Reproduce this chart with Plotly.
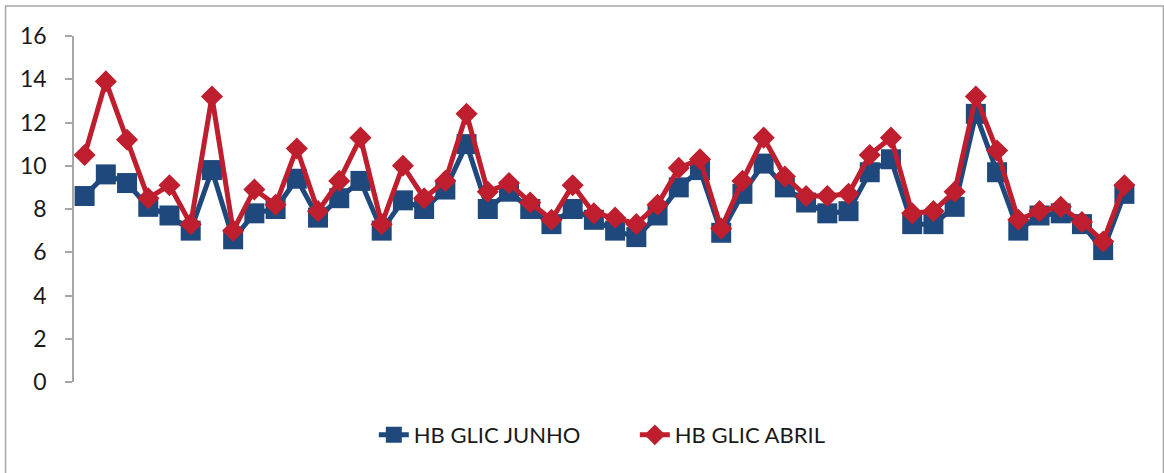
import plotly.graph_objects as go

patients = list(range(1, 51))
hb_glic_junho = [8.6, 9.6, 9.2, 8.1, 7.7, 7.0, 9.8, 6.6, 7.8, 8.0,
                 9.4, 7.6, 8.5, 9.3, 7.0, 8.4, 8.0, 8.9, 11.0, 8.0,
                 8.8, 8.0, 7.3, 8.0, 7.5, 7.0, 6.7, 7.7, 9.0, 9.8,
                 6.9, 8.7, 10.1, 9.0, 8.3, 7.8, 7.9, 9.7, 10.3, 7.3,
                 7.3, 8.1, 12.4, 9.7, 7.0, 7.7, 7.8, 7.3, 6.1, 8.7]
hb_glic_abril = [10.5, 13.9, 11.2, 8.5, 9.1, 7.3, 13.2, 7.0, 8.9, 8.2,
                 10.8, 7.9, 9.3, 11.3, 7.3, 10.0, 8.5, 9.3, 12.4, 8.8,
                 9.2, 8.3, 7.5, 9.1, 7.8, 7.6, 7.3, 8.2, 9.9, 10.3,
                 7.1, 9.3, 11.3, 9.5, 8.6, 8.6, 8.7, 10.5, 11.3, 7.8,
                 7.9, 8.8, 13.2, 10.7, 7.5, 7.9, 8.1, 7.4, 6.5, 9.1]
y_ticks = [0, 2, 4, 6, 8, 10, 12, 14, 16]

BLUE = "#1F497D"
RED = "#BE1E2D"
FONT = "Lato"

fig = go.Figure()
fig.add_trace(go.Scatter(
    x=patients, y=hb_glic_junho, name="HB GLIC JUNHO", mode="lines+markers",
    line=dict(color=BLUE, width=5),
    marker=dict(symbol="square", size=20, color=BLUE),
))
fig.add_trace(go.Scatter(
    x=patients, y=hb_glic_abril, name="HB GLIC ABRIL", mode="lines+markers",
    line=dict(color=RED, width=5),
    marker=dict(symbol="diamond", size=17, color=RED),
))

L, R, T, B = 74.4, 29.4, 36, 91
W, H = 1164, 473
pw = W - L - R
ph = H - T - B

def px_x(p):
    return (p - L) / pw

def px_y(p):
    return (H - B - p) / ph

fig.add_shape(type="rect", xref="paper", yref="paper",
              x0=px_x(6), x1=px_x(1163), y0=px_y(490), y1=px_y(6),
              line=dict(color="#A6A6A6", width=1.5), layer="below")

fig.update_layout(
    width=W, height=H,
    margin=dict(l=L, r=R, t=T, b=B, pad=0),
    paper_bgcolor="white", plot_bgcolor="white",
    font=dict(family=FONT, size=22, color="#1a1a1a"),
    showlegend=True,
    legend=dict(orientation="h", x=px_x(374), xanchor="left",
                y=px_y(435), yanchor="middle",
                font=dict(family=FONT, size=22, color="#1a1a1a"),
                entrywidth=216, entrywidthmode="pixels",
                tracegroupgap=0, bgcolor="rgba(0,0,0,0)"),
    xaxis=dict(range=[0.5, 50.5], visible=False, showgrid=False, zeroline=False),
    yaxis=dict(range=[0, 16], tickvals=y_ticks, showgrid=False, zeroline=False,
               showline=True, linecolor="#A6A6A6", linewidth=1.5,
               ticks="outside", ticklen=7, tickcolor="#A6A6A6", tickwidth=1.5,
               ticklabelstandoff=14, automargin=False,
               tickfont=dict(family=FONT, size=23, color="#1a1a1a")),
)

fig.write_html("out.html", config={"displayModeBar": False},
               post_script="document.body.style.margin='0';document.body.style.padding='0';")
